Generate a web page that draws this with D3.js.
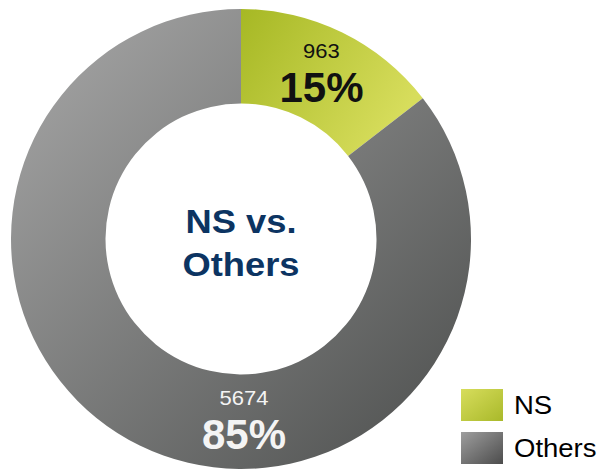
<!DOCTYPE html>
<html>
<head>
<meta charset="utf-8">
<script src="https://cdn.jsdelivr.net/npm/d3@7"></script>
<style>
  body { margin: 0; background: #fff; }
  text { font-family: "Liberation Sans", Arial, sans-serif; }
</style>
</head>
<body>
<div id="chart"></div>
<script>
// data
const categories = ["NS", "Others"];
const counts = [963, 5674];
const centerLines = ["NS vs.", "Others"];

const width = 603, height = 469;
const cx = 241, cy = 239;
const outerR = 230, innerR = 135.5;
const stretchX = 1.1; // small text in the original looks a little wide

const svg = d3.select("#chart")
    .append("svg")
    .attr("width", width)
    .attr("height", height);

const defs = svg.append("defs");

// gradients for the slices and legend swatches
function grad(id, x2, y2, c1, c2) {
    const g = defs.append("linearGradient")
        .attr("id", id)
        .attr("x1", 0).attr("y1", 0)
        .attr("x2", x2).attr("y2", y2);
    g.append("stop").attr("offset", "0%").attr("stop-color", c1);
    g.append("stop").attr("offset", "100%").attr("stop-color", c2);
}
grad("g-ns", 1, 0.5, "#a6b824", "#d7dd5c");
grad("g-others", 1, 1, "#a9a9a9", "#4b4d4c");
grad("lg-ns", 1, 1, "#d7dd5c", "#a9b92a");
grad("lg-others", 1, 1, "#9e9e9e", "#4c4c4c");
const fills = ["url(#g-ns)", "url(#g-others)"];
const legendFills = ["url(#lg-ns)", "url(#lg-others)"];

const total = d3.sum(counts);
const data = categories.map((c, i) => ({ name: c, value: counts[i], pct: Math.round(counts[i] / total * 100) }));

const pie = d3.pie().value(d => d.value).sort(null);
const arc = d3.arc().innerRadius(innerR).outerRadius(outerR);
const arcs = pie(data);

const g = svg.append("g").attr("transform", `translate(${cx}, ${cy})`);

g.selectAll("path.slice")
    .data(arcs)
    .join("path")
    .attr("class", "slice")
    .attr("d", arc)
    .attr("fill", (d, i) => fills[i]);

// label anchors: NS at its centroid, Others at the bottom of the ring
const anchors = arcs.map((d, i) => i === 0
    ? arc.centroid(d)
    : arc.centroid({ startAngle: Math.PI, endAngle: Math.PI }));
const labelColor = ["#111", "#f4f4f4"];

const labels = g.selectAll("g.lbl")
    .data(arcs)
    .join("g")
    .attr("class", "lbl")
    .attr("transform", (d, i) => `translate(${anchors[i][0] + (i === 1 ? 3 : 0)}, ${anchors[i][1]})`);

labels.append("text")
    .attr("text-anchor", "middle")
    .attr("transform", `translate(0, -17) scale(${stretchX}, 1)`)
    .style("font-size", "20px")
    .attr("fill", (d, i) => labelColor[i])
    .text(d => d.data.value);

labels.append("text")
    .attr("text-anchor", "middle")
    .attr("y", 27)
    .style("font-size", "42px")
    .style("font-weight", "bold")
    .attr("fill", (d, i) => labelColor[i])
    .text(d => d.data.pct + "%");

// center title
g.append("g")
    .attr("transform", `scale(${stretchX}, 1)`)
    .selectAll("text")
    .data(centerLines)
    .join("text")
    .attr("text-anchor", "middle")
    .attr("y", (d, i) => -6 + i * 43)
    .style("font-size", "33px")
    .style("font-weight", "bold")
    .attr("fill", "#0c3462")
    .text(d => d);

// legend
const legend = svg.append("g").attr("transform", "translate(461, 389)");
const items = legend.selectAll("g")
    .data(categories)
    .join("g")
    .attr("transform", (d, i) => `translate(0, ${i * 43})`);
items.append("rect")
    .attr("width", 42)
    .attr("height", 32)
    .attr("fill", (d, i) => legendFills[i]);
items.append("text")
    .attr("transform", `translate(53, 25) scale(${stretchX}, 1)`)
    .style("font-size", "25px")
    .attr("fill", "#000")
    .text(d => d);
</script>
</body>
</html>
